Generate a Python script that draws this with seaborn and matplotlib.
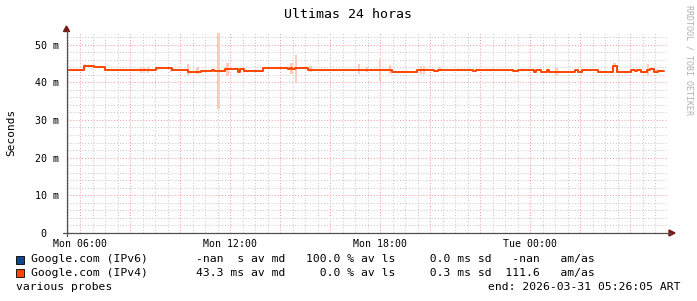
import matplotlib
matplotlib.use("Agg")
import matplotlib.pyplot as plt
from matplotlib.lines import Line2D
from matplotlib.patches import Polygon, Rectangle
import seaborn as sns
import numpy as np
import pandas as pd

W, H = 697, 301

# ---------------- data ----------------
title = "Ultimas 24 horas"
y_label = "Seconds"
watermark = "RRDTOOL / TOBI OETIKER"

x_start_hour = 5.48   # hours since Mon 00:00
x_end_hour = 29.48
x_tick_hours = [6, 12, 18, 24]
x_tick_labels = ["Mon 06:00", "Mon 12:00", "Mon 18:00", "Tue 00:00"]
y_tick_values = [0, 10, 20, 30, 40, 50]
y_tick_labels = ["0  ", "10 m", "20 m", "30 m", "40 m", "50 m"]
y_max = 53.2

# IPv4 median RTT (ms), step changes (hours since Mon 00:00)
ipv4_change_hours = [5.48, 6.16, 6.56, 7.00, 9.04, 9.68, 10.32, 10.84, 11.28, 11.36,
                     11.80, 12.32, 12.40, 12.56, 13.32, 14.32, 14.40, 14.48, 14.60, 15.12,
                     18.48, 19.48, 20.16, 20.32, 21.72, 21.84, 23.32, 23.52, 24.16, 24.24,
                     24.44, 24.68, 24.76, 25.80, 25.92, 26.08, 26.72, 27.32, 27.48, 28.04,
                     28.20, 28.28, 28.44, 28.68, 28.80, 28.96, 29.12, 29.36]
ipv4_median_ms = [43.36, 44.42, 44.16, 43.36, 43.71, 43.36, 42.83, 43.10, 43.36, 43.10,
                  43.63, 42.83, 43.50, 43.10, 43.71, 43.55, 43.71, 43.45, 43.71, 43.36,
                  42.83, 43.36, 43.10, 43.36, 43.10, 43.36, 43.10, 43.36, 42.83, 43.36,
                  42.83, 43.36, 42.83, 43.36, 42.83, 43.36, 42.83, 44.24, 42.83, 43.36,
                  43.10, 43.36, 42.83, 43.36, 43.63, 42.83, 43.10, 43.10]

# smoke (min/max spread) bins
smoke_hours = [6.20, 8.44, 8.56, 8.72, 9.64, 10.32, 10.70, 11.54, 11.90, 14.46,
               14.64, 15.22, 17.16, 17.48, 18.00, 18.40, 19.64, 19.76, 20.40, 25.06,
               27.38, 28.72, 29.06]
smoke_low_ms = [44.0, 42.4, 42.4, 42.4, 42.8, 41.7, 42.3, 32.8, 41.7, 42.1,
                39.7, 42.8, 42.3, 42.6, 40.3, 42.3, 42.3, 42.3, 42.9, 41.9,
                44.1, 41.7, 42.6]
smoke_high_ms = [44.8, 44.1, 44.1, 44.1, 43.9, 44.8, 44.1, 53.4, 45.2, 45.2,
                 47.2, 44.2, 44.8, 44.0, 46.1, 44.7, 44.3, 44.3, 44.1, 43.9,
                 45.0, 44.8, 43.4]

legend_names = ["Google.com (IPv6)", "Google.com (IPv4)"]
legend_colors = ["#0C4A8C", "#FF4500"]
stat_median = ["-nan  s", "43.3 ms"]
stat_loss = ["100.0", "0.0"]
stat_sd = ["0.0", "0.3"]
stat_amas = ["-nan", "111.6"]
footer_left = "various probes"
footer_right = "end: 2026-03-31 05:26:05 ART"

# ---------------- style ----------------
sns.set_style("white")
plt.rcParams["font.family"] = ["DejaVu Sans Mono", "DejaVu Sans"]

fig = plt.figure(figsize=(W / 100, H / 100), dpi=100)
fig.patch.set_facecolor("white")


def fx(px):
    return px / W


def fy(py):
    return 1 - py / H


ax_left, ax_right, ax_bottom, ax_top = 67, 667, 233, 32.5
ax = fig.add_axes([fx(ax_left), fy(ax_bottom), (ax_right - ax_left) / W, (ax_bottom - ax_top) / H])
ax.set_facecolor("white")
for s in ax.spines.values():
    s.set_visible(False)

ax.set_xlim(x_start_hour, x_end_hour)
ax.set_ylim(0, y_max)

# grid
major_x = np.arange(6, x_end_hour, 2)
ax.set_xticks(major_x)
ax.set_xticklabels([x_tick_labels[x_tick_hours.index(int(h))] if int(h) in x_tick_hours else "" for h in major_x])
ax.set_xticks(np.arange(5.5, x_end_hour, 0.5), minor=True)
ax.set_yticks(y_tick_values)
ax.set_yticklabels(y_tick_labels)
ax.set_yticks(np.arange(0, y_max, 2), minor=True)

ax.grid(which="minor", color="#CACACA", linestyle=(0, (1.0, 1.8)), linewidth=0.75, zorder=0)
ax.grid(which="major", color="#F0A0A0", linestyle=(0, (1.0, 1.8)), linewidth=0.75, zorder=0)
ax.set_axisbelow(True)

ax.tick_params(axis="x", which="major", length=2.2, width=0.8, color="#E08080", pad=2.0,
               labelsize=7.1, labelcolor="black")
ax.tick_params(axis="x", which="minor", length=0)
ax.tick_params(axis="y", which="major", length=2.5, width=0.8, color="#606060", pad=3.0,
               labelsize=7.2, labelcolor="black")
ax.tick_params(axis="y", which="minor", length=1.5, width=0.6, color="#A0A0A0")

# smoke
smoke_df = pd.DataFrame({"hour": smoke_hours, "low": smoke_low_ms, "high": smoke_high_ms})
ax.bar(smoke_df["hour"], smoke_df["high"] - smoke_df["low"], bottom=smoke_df["low"],
       width=0.09, color="#FFCBBB", linewidth=0, zorder=2)

# median line
line_df = pd.DataFrame({"hour": ipv4_change_hours, "ms": ipv4_median_ms})
sns.lineplot(data=line_df, x="hour", y="ms", ax=ax, color=legend_colors[1], linewidth=1.4,
             drawstyle="steps-post", estimator=None, sort=True, legend=False, zorder=3)
ax.set_xlabel("")
ax.set_ylabel("")

# axis lines and arrows
axis_col = "#505050"
fig.add_artist(Line2D([fx(66.5), fx(66.5)], [fy(236), fy(30)], color=axis_col, linewidth=0.9,
                      transform=fig.transFigure))
fig.add_artist(Line2D([fx(63), fx(671)], [fy(233), fy(233)], color=axis_col, linewidth=0.9,
                      transform=fig.transFigure))
arrow_col = "#7A1515"
fig.add_artist(Polygon([[fx(63.5), fy(31.5)], [fx(69.5), fy(31.5)], [fx(66.5), fy(26)]], closed=True,
                       color=arrow_col, transform=fig.transFigure))
fig.add_artist(Polygon([[fx(669), fy(230)], [fx(669), fy(236)], [fx(675), fy(233)]], closed=True,
                       color=arrow_col, transform=fig.transFigure))

# texts
fig.text(fx(348), fy(14), title, ha="center", va="center", fontsize=9.5, color="black")
fig.text(fx(11), fy(132), y_label, ha="center", va="center", rotation=90, fontsize=8, color="black")
fig.text(fx(689), fy(60), watermark, ha="center", va="center", rotation=270, fontsize=6.0, color="#B0B0B0")

# legend rows
row_y = [259.5, 273.0]
for i in range(2):
    fig.add_artist(Rectangle((fx(15.5), fy(row_y[i] + 4)), 8 / W, 8 / H, facecolor=legend_colors[i],
                             edgecolor="black", linewidth=0.6, transform=fig.transFigure))
    row = (f"{legend_names[i]:<17}{'':7}{stat_median[i]:>7} av md   {stat_loss[i]:>5} % av ls"
           f"    {stat_sd[i]:>4} ms sd  {stat_amas[i]:>5}   am/as")
    fig.text(fx(31), fy(row_y[i]), row, ha="left", va="center", fontsize=8.2, color="black")

fig.text(fx(16), fy(287), footer_left, ha="left", va="center", fontsize=8.2, color="black")
fig.text(fx(681), fy(287), footer_right, ha="right", va="center", fontsize=8.2, color="black")

fig.savefig("out.png", dpi=100, facecolor="white")
